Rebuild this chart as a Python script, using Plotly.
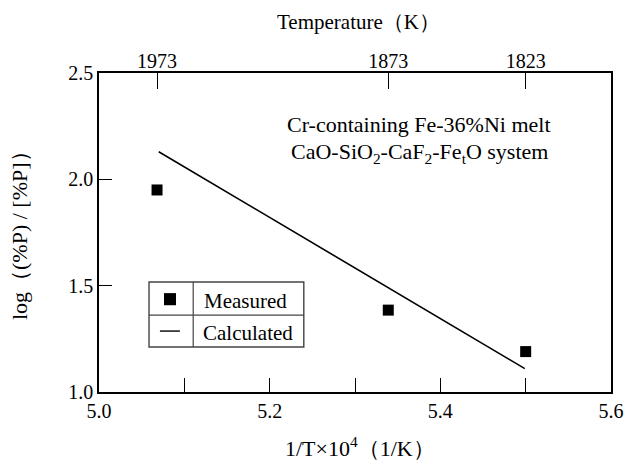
import plotly.graph_objects as go

# ---- data ----
temp_labels = [1973, 1873, 1823]          # K, top axis labels
temp_tick_x = [5.068, 5.339, 5.500]       # positions of those labels on the 1/T axis (as drawn)
measured_x = [5.068, 5.339, 5.500]
measured_y = [1.95, 1.385, 1.19]
calc_x = [5.070, 5.499]
calc_y = [2.13, 1.11]
x_tickvals = [5.0, 5.1, 5.2, 5.3, 5.4, 5.5, 5.6]
x_ticktext = ["5.0", "", "5.2", "", "5.4", "", "5.6"]
y_tickvals = [1.0, 1.5, 2.0, 2.5]
y_ticktext = ["1.0", "1.5", "2.0", "2.5"]

FONT = "Liberation Serif, Times New Roman, serif"
fs_tick = 20
fs_text = 21

fig = go.Figure()
fig.add_trace(go.Scatter(x=calc_x, y=calc_y, mode="lines",
                         line=dict(color="black", width=1.6), showlegend=False))
fig.add_trace(go.Scatter(x=measured_x, y=measured_y, mode="markers",
                         marker=dict(symbol="square", size=11, color="black"),
                         showlegend=False))
# invisible trace to activate top axis
fig.add_trace(go.Scatter(x=[5.0, 5.6], y=[1.0, 1.0], xaxis="x2", mode="markers",
                         marker=dict(opacity=0), showlegend=False, hoverinfo="skip"))

fig.update_layout(
    width=635, height=465,
    margin=dict(l=99, r=24, t=73, b=73),
    paper_bgcolor="white", plot_bgcolor="white",
    font=dict(family=FONT, size=fs_text, color="black"),
    xaxis=dict(range=[5.0, 5.6], tickvals=x_tickvals, ticktext=x_ticktext,
               ticks="inside", ticklen=14, tickwidth=1.3, tickcolor="black",
               showline=True, linecolor="black", linewidth=1.6, mirror=True,
               showgrid=False, zeroline=False, tickfont=dict(size=fs_tick)),
    xaxis2=dict(range=[5.0, 5.6], overlaying="x", side="top",
                tickvals=temp_tick_x, ticktext=[str(t) for t in temp_labels],
                ticks="inside", ticklen=16, tickwidth=1.3, tickcolor="black",
                showline=False, showgrid=False, zeroline=False, tickfont=dict(size=fs_tick)),
    yaxis=dict(range=[1.0, 2.5], tickvals=y_tickvals, ticktext=y_ticktext,
               ticks="inside", ticklen=13, tickwidth=1.3, tickcolor="black",
               showline=True, linecolor="black", linewidth=1.6, mirror=True,
               showgrid=False, zeroline=False, tickfont=dict(size=fs_tick)),
)

def ann(text, x, y, size=fs_text, xanchor="center", **kw):
    return dict(text=text, x=x, y=y, xref="paper", yref="paper", showarrow=False,
                xanchor=xanchor, yanchor="middle", font=dict(size=size), **kw)

annotations = [
    ann("Temperature（K）", 0.506, 1.16, size=21),
    ann("1/T×10<sup>4</sup>（1/K）", 0.51, -0.172, size=22),
    ann("log（(%P) / [%P]）", -0.154, 0.508, size=22, textangle=-90),
    ann("Cr-containing Fe-36%Ni melt", 0.625, 0.837, size=22),
    ann("CaO-SiO<sub>2</sub>-CaF<sub>2</sub>-Fe<sub>t</sub>O system", 0.625, 0.749, size=22),
    ann("Measured", 0.201, 0.285, xanchor="left"),
    ann("Calculated", 0.199, 0.185, xanchor="left"),
]
fig.update_layout(annotations=annotations)

# legend box (table)
lx0, lx1, ldiv = 0.0977, 0.400, 0.184
ly0, ly1, lmid = 0.141, 0.345, 0.241
shapes = [
    dict(type="rect", xref="paper", yref="paper", x0=lx0, x1=lx1, y0=ly0, y1=ly1,
         line=dict(color="#444", width=1.4)),
    dict(type="line", xref="paper", yref="paper", x0=ldiv, x1=ldiv, y0=ly0, y1=ly1,
         line=dict(color="#444", width=1.2)),
    dict(type="line", xref="paper", yref="paper", x0=lx0, x1=lx1, y0=lmid, y1=lmid,
         line=dict(color="#444", width=1.2)),
    dict(type="rect", xref="paper", yref="paper", x0=0.1269, x1=0.1504, y0=0.272, y1=0.310,
         fillcolor="black", line=dict(width=0)),
    dict(type="line", xref="paper", yref="paper", x0=0.119, x1=0.158, y0=0.191, y1=0.191,
         line=dict(color="black", width=1.4)),
]
fig.update_layout(shapes=shapes)

fig.write_html("out.html")
